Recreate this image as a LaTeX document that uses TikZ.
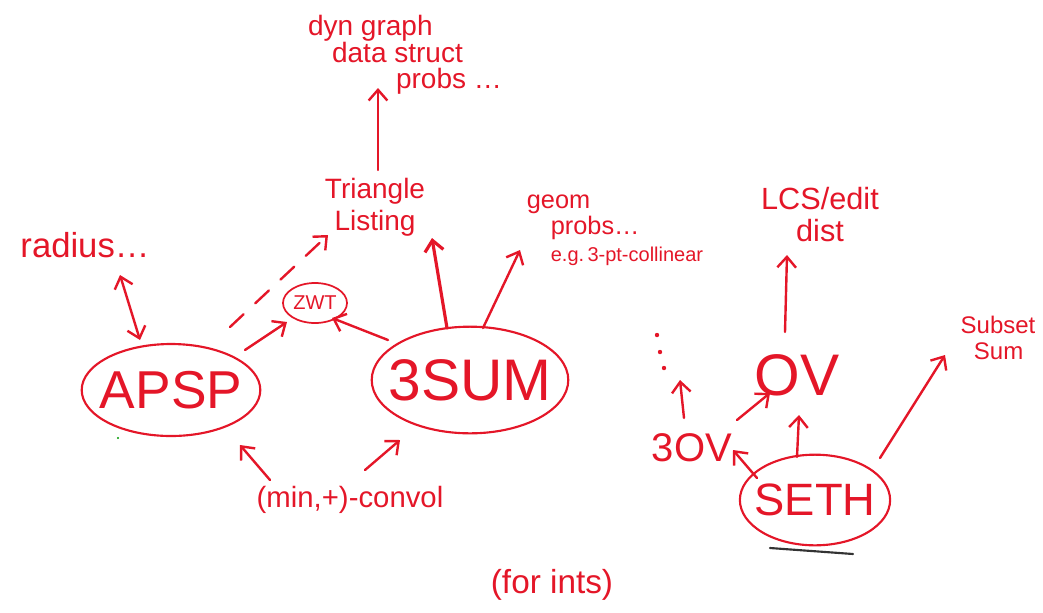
\documentclass[tikz,border=0pt]{standalone}
\usepackage{fontspec}
\setmainfont{Liberation Sans}
\usetikzlibrary{shapes.geometric,arrows.meta,calc}

\definecolor{ink}{RGB}{228,22,40}

\tikzset{
  lbl/.style={text=ink,inner sep=0.75pt},
  blob/.style={draw=ink,ellipse,line width=1.6pt,inner ysep=0pt,text=ink},
  arr/.style={draw=ink,line width=1.8pt,line cap=round,-{Straight Barb[length=8pt,width=14pt]}},
}

\begin{document}
\begin{tikzpicture}[x=0.75pt,y=0.75pt,yscale=-1,xscale=1]
\useasboundingbox (0,0) rectangle (1043,612);

% Text Node
\node[lbl,align=left,font=\fontsize{21}{20}\selectfont] (dyn) at (405,55)
  {dyn graph\\\hspace*{18pt}data struct\\\hspace*{66pt}probs \dots};
% Text Node
\node[lbl,align=center,font=\fontsize{21}{24}\selectfont] (tri) at (375,207) {Triangle\\Listing};
% Text Node
\node[lbl,font=\fontsize{26}{28}\selectfont] (rad) at (85,245) {radius\dots};
% Text Node
\node[lbl,align=left,font=\fontsize{19}{20}\selectfont] (geom) at (615,230)
  {geom\\\hspace*{18pt}probs\dots\\\hspace*{18pt}{\fontsize{15}{16}\selectfont e.g.\,3-pt-collinear}};
% Text Node
\node[lbl,font=\fontsize{22}{26}\selectfont] (conv) at (350,500) {(min,+)-convol};
% Text Node
\node[lbl,font=\fontsize{25}{28}\selectfont] (ints) at (552,585) {(for ints)};
% Text Node
\node[lbl,align=center,font=\fontsize{23}{24}\selectfont] (lcs) at (820,215) {LCS/edit\\dist};
% Text Node
\node[lbl,align=left,font=\fontsize{18}{20}\selectfont] (sub) at (998,338) {Subset\\\hspace*{10pt}Sum};
% Text Node
\node[lbl,font=\fontsize{44}{48}\selectfont] (ov) at (797,375) {OV};
% Text Node
\node[lbl,font=\fontsize{30}{32}\selectfont] (tov) at (692,448) {3OV};
% vertical dots
\coordinate (dots) at (660,352);
\foreach \dx/\dy in {-3/-17,0/0,4/16}
  \fill[ink] ($(dots)+(\dx,\dy)$) circle (2.2);

% Ellipses
\node[blob,inner xsep=-6pt,minimum height=69pt,font=\fontsize{40}{44}\selectfont] (apsp) at (171,390) {APSP};
\node[blob,inner xsep=-9pt,minimum height=80pt,font=\fontsize{44}{48}\selectfont] (sum) at (470,380) {3SUM};
\node[blob,minimum width=48pt,minimum height=30pt,inner xsep=0pt,line width=1.3pt,font=\fontsize{15}{16}\selectfont] (zwt) at (315,303) {ZWT};
\node[blob,inner xsep=-5.5pt,minimum height=68pt,font=\fontsize{34}{38}\selectfont] (seth) at (815,500) {SETH};

% Arrows
\draw[arr] ($(tri.center)+(3,-37)$) -- ($(dyn.center)+(-27,33)$);
\draw[arr,{Straight Barb[length=8pt,width=14pt]}-{Straight Barb[length=8pt,width=14pt]}] ($(rad.center)+(35,30)$) -- ($(apsp.center)+(-31,-50)$);
\draw[arr,dashed,dash pattern=on 14pt off 12pt] ($(apsp.center)+(59,-63)$) -- ($(tri.center)+(-47,28)$);
\draw[arr] ($(apsp.center)+(74,-40)$) -- ($(zwt.center)+(-28,19)$);
\draw[arr] ($(sum.center)+(-82,-40)$) -- ($(zwt.center)+(17,15)$);
\draw[arr,line width=2.4pt] ($(sum.center)+(-23,-52)$) -- ($(tri.center)+(57,31)$);
\draw[arr] ($(sum.center)+(13,-52)$) -- ($(geom.center)+(-95,20)$);
\draw[arr] ($(conv.center)+(-80,-20)$) -- ($(apsp.center)+(69,55)$);
\draw[arr] ($(conv.center)+(15,-30)$) -- ($(sum.center)+(-70,60)$);
\draw[arr] ($(ov.center)+(-12,-43)$) -- ($(lcs.center)+(-33,40)$);
\draw[arr] ($(seth.center)+(65,-42)$) -- ($(sub.center)+(-53,17)$);
\draw[arr] ($(seth.center)+(-18,-43)$) -- ($(ov.center)+(2,40)$);
\draw[arr] ($(seth.center)+(-58,-22)$) -- ($(tov.center)+(41,2)$);
\draw[arr] ($(tov.center)+(-8,-30)$) -- ($(dots)+(20,28)$);
\draw[arr] ($(tov.center)+(45,-28)$) -- ($(ov.center)+(-27,18)$);

% underline
\draw[line width=1.6pt,line cap=round,black!80] ($(seth.center)+(-45,48)$) -- ($(seth.center)+(38,54)$);
\fill[green!60!black] (118,438) circle (1.2);
\end{tikzpicture}
\end{document}
